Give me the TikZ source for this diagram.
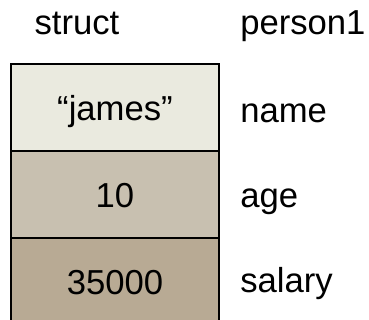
\documentclass[tikz,border=0pt]{standalone}
\usepackage{fontspec}
\setmainfont{Liberation Sans}
\begin{document}
\begin{tikzpicture}[x=0.75pt,y=-0.75pt,
  cell/.style={draw=black,line width=1.5pt,minimum width=156pt,minimum height=65.25pt,
    inner sep=0pt,text height=19pt,text depth=0pt,font=\fontsize{26}{30}\selectfont},
  lbl/.style={anchor=base west,inner sep=0pt,font=\fontsize{26}{30}\selectfont}]
\useasboundingbox (0,0) rectangle (369,320);
\clip (0,0) rectangle (369,320);
\node[cell,fill={rgb,255:red,234;green,234;blue,223}] (c1) at (115,107.5) {“james”};
\node[cell,fill={rgb,255:red,200;green,192;blue,176}] (c2) at (115,194.5) {10};
\node[cell,fill={rgb,255:red,184;green,170;blue,148}] (c3) at (115,281.5) {35000};
\node[anchor=base,inner sep=0pt,font=\fontsize{26}{30}\selectfont] (st) at (77,35) {struct};
\node[lbl] (p1) at (240,35) {person1};
\node[lbl] (l1) at (240,123) {name};
\node[lbl] (l2) at (240,208) {age};
\node[lbl] (l3) at (240,293) {salary};
\end{tikzpicture}
\end{document}
